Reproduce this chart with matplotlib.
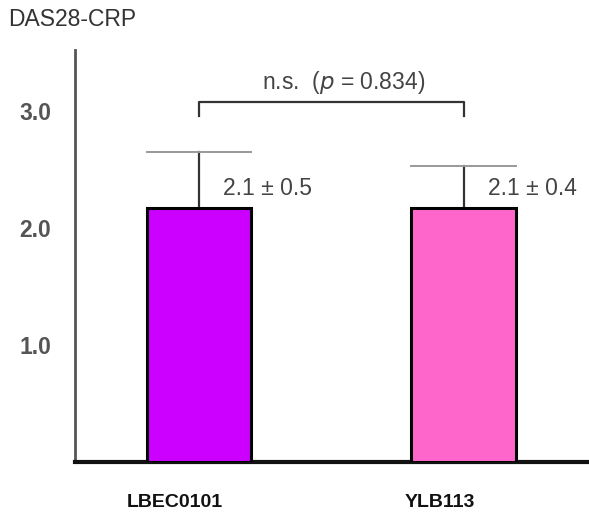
import matplotlib
matplotlib.use("Agg")
import matplotlib.pyplot as plt

plt.rcParams['font.family'] = ['Liberation Sans', 'DejaVu Sans']

# data
groups = ["LBEC0101", "YLB113"]
means = [2.17, 2.17]
errors = [0.48, 0.36]
value_labels = ["2.1 \u00b1 0.5", "2.1 \u00b1 0.4"]
bar_colors = ["#cc00ff", "#ff66cc"]
yticks = [1.0, 2.0, 3.0]
ylabel = "DAS28-CRP"
p_value = 0.834

fig = plt.figure(figsize=(5.89, 5.16), dpi=100)
ax = fig.add_axes([75 / 589, 1 - 462 / 516, 1 - 75 / 589, 412 / 516])

x = list(range(len(groups)))
width = 0.396
ax.bar(x, means, width=width, color=bar_colors, edgecolor="black", linewidth=2.2, zorder=3)

# error bars: stem + wide grey cap
for xi, m, e in zip(x, means, errors):
    ax.plot([xi, xi], [m, m + e], color="#333333", lw=1.6, zorder=2)
    ax.plot([xi - width / 2, xi + width / 2], [m + e, m + e], color="#999999", lw=1.4, zorder=2)

for xi, m, lab in zip(x, means, value_labels):
    ax.text(xi + 0.09, m + 0.07, lab, fontsize=16.5, color="#444444", ha="left", va="bottom")

# significance bracket
yb, yb_low = 3.08, 2.96
ax.plot([x[0], x[0], x[1], x[1]], [yb_low, yb, yb, yb_low], color="#333333", lw=1.6)
ax.text(0.545, yb + 0.05, "n.s.  ($\\it{p}$ = %.3f)" % p_value, fontsize=16.5,
        color="#444444", ha="center", va="bottom")

ax.set_xlim(-0.468, 1.472)
ax.set_ylim(0, 3.52)
ax.set_yticks(yticks)
ax.set_yticklabels(["%.1f" % t for t in yticks], fontsize=16.5, fontweight="bold", color="#555555")
ax.tick_params(axis="y", length=0, pad=17)
ax.set_xticks([])

for xi, g in zip(x, groups):
    ax.text(xi - 0.09, -0.35, g, fontsize=14, fontweight="bold", color="#111111",
            ha="center", va="center", transform=ax.transData, clip_on=False)

ax.spines["top"].set_visible(False)
ax.spines["right"].set_visible(False)
ax.spines["left"].set_color("#555555")
ax.spines["left"].set_linewidth(2)
ax.spines["bottom"].set_color("#111111")
ax.spines["bottom"].set_linewidth(3)

fig.text(8 / 589, 1 - 20 / 516, ylabel, fontsize=16.5, color="#333333", ha="left", va="center")

fig.savefig("out.png", dpi=100)
